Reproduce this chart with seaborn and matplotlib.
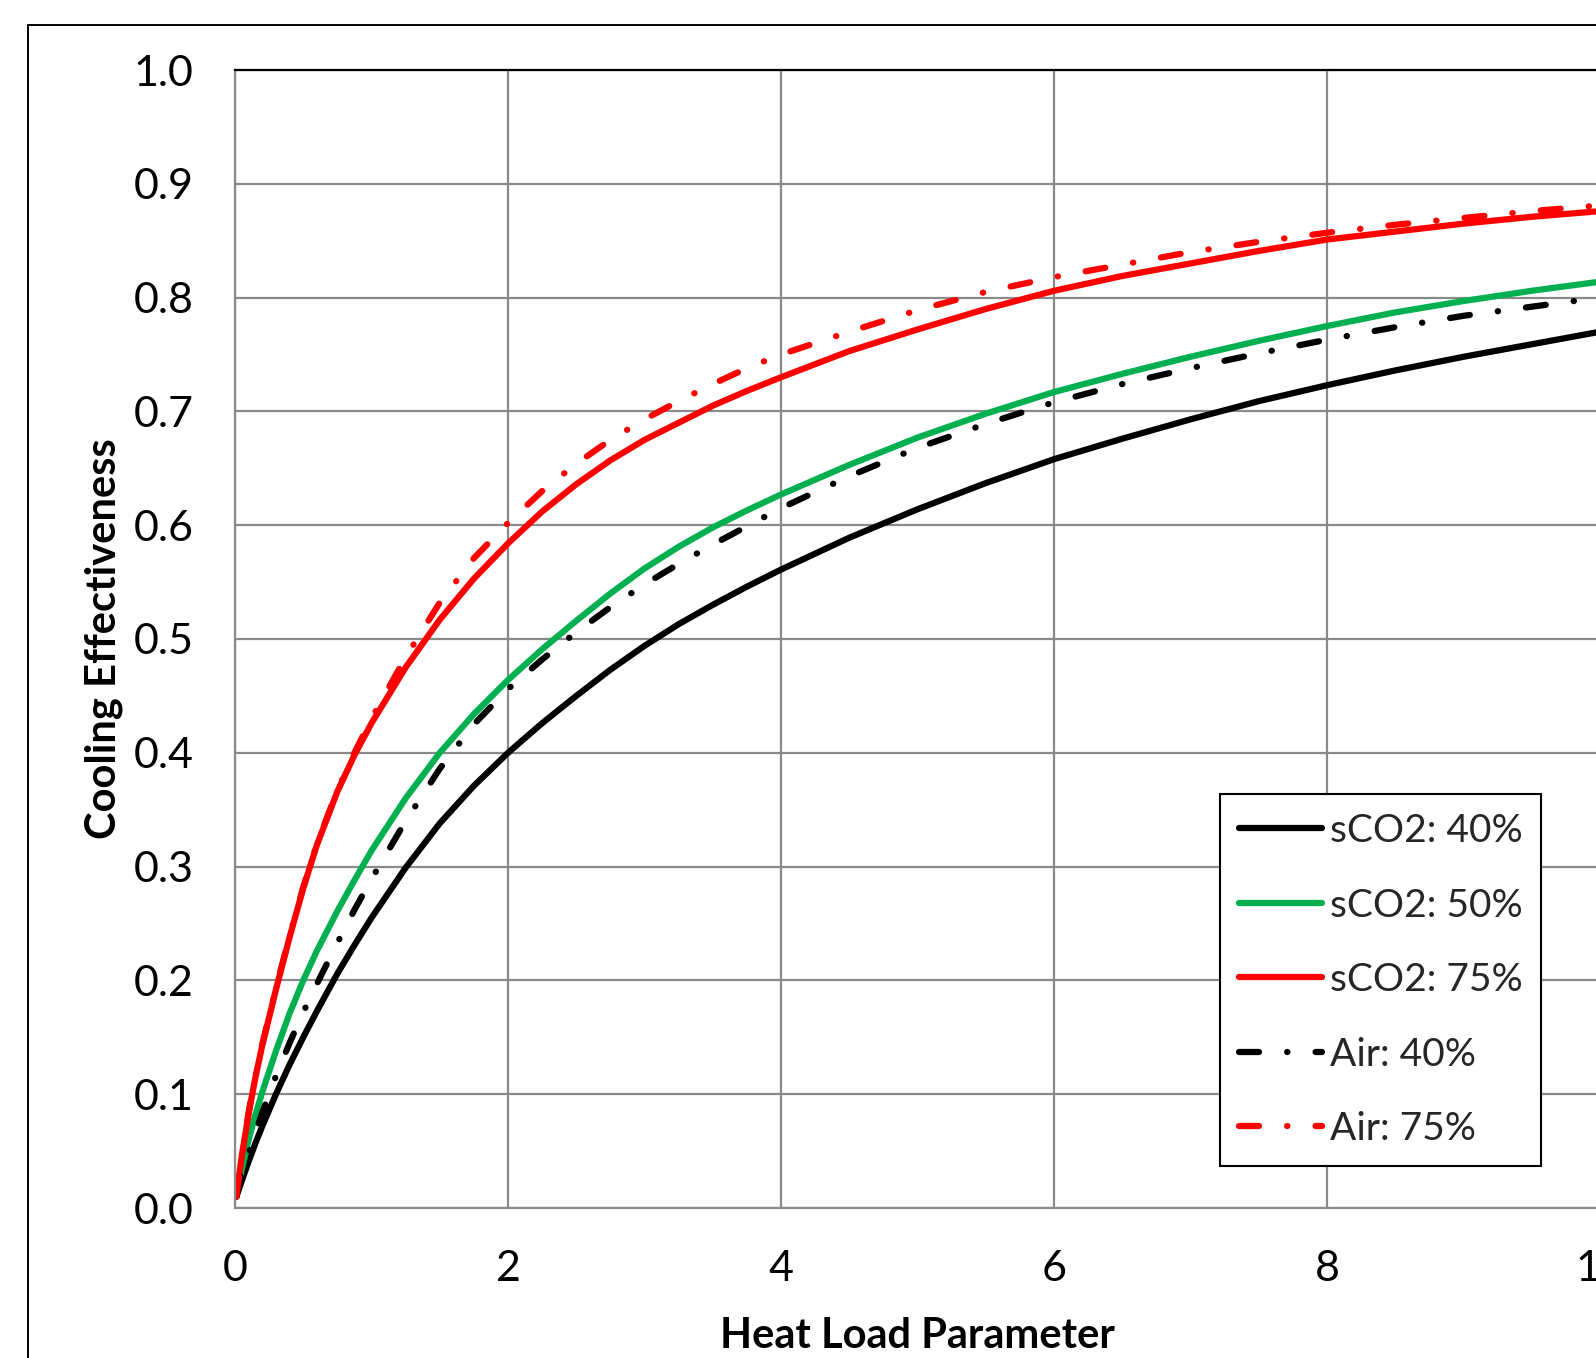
import numpy as np
import pandas as pd
import matplotlib
matplotlib.use('Agg')
import matplotlib.pyplot as plt
import seaborn as sns
from matplotlib.patches import Rectangle

# values
heat_load = [0.01, 0.05, 0.1, 0.15, 0.2, 0.3, 0.4, 0.5, 0.6, 0.75, 0.875, 1.0,
             1.25, 1.5, 1.75, 2.0, 2.25, 2.5, 2.75, 3.0, 3.25, 3.5, 3.75, 4.0,
             4.5, 5.0, 5.5, 6.0, 6.5, 7.0, 7.5, 8.0, 8.5, 9.0, 9.5, 10.0]
sco2_40 = [0.010, 0.024, 0.041, 0.057, 0.072, 0.100, 0.126, 0.150, 0.173, 0.206, 0.231, 0.255,
           0.299, 0.338, 0.371, 0.400, 0.426, 0.450, 0.473, 0.494, 0.513, 0.530, 0.546, 0.561,
           0.589, 0.614, 0.637, 0.658, 0.676, 0.693, 0.709, 0.723, 0.736, 0.748, 0.759, 0.770]
sco2_50 = [0.010, 0.034, 0.060, 0.082, 0.102, 0.138, 0.171, 0.200, 0.226, 0.261, 0.288, 0.314,
           0.360, 0.400, 0.434, 0.464, 0.491, 0.516, 0.540, 0.562, 0.581, 0.598, 0.613, 0.627,
           0.653, 0.677, 0.698, 0.717, 0.733, 0.748, 0.762, 0.775, 0.787, 0.797, 0.806, 0.814]
sco2_75 = [0.010, 0.046, 0.083, 0.115, 0.143, 0.192, 0.238, 0.281, 0.319, 0.366, 0.398, 0.426,
           0.475, 0.517, 0.553, 0.584, 0.612, 0.636, 0.657, 0.675, 0.690, 0.705, 0.718, 0.730,
           0.753, 0.772, 0.790, 0.806, 0.819, 0.830, 0.841, 0.851, 0.858, 0.865, 0.871, 0.876]
air_40 = [0.010, 0.028, 0.048, 0.066, 0.084, 0.116, 0.145, 0.172, 0.197, 0.233, 0.262, 0.289,
          0.340, 0.386, 0.425, 0.456, 0.482, 0.506, 0.528, 0.548, 0.566, 0.583, 0.599, 0.615,
          0.643, 0.668, 0.689, 0.708, 0.724, 0.738, 0.751, 0.763, 0.774, 0.784, 0.792, 0.800]
air_75 = [0.010, 0.046, 0.084, 0.116, 0.144, 0.193, 0.239, 0.282, 0.320, 0.367, 0.400, 0.430,
          0.484, 0.532, 0.571, 0.602, 0.630, 0.654, 0.675, 0.693, 0.709, 0.724, 0.738, 0.750,
          0.770, 0.789, 0.805, 0.818, 0.829, 0.840, 0.849, 0.857, 0.864, 0.870, 0.876, 0.881]

labels = ['sCO2: 40%', 'sCO2: 50%', 'sCO2: 75%', 'Air: 40%', 'Air: 75%']
x_ticks = [0, 2, 4, 6, 8, 10]
x_tick_labels = ['0', '2', '4', '6', '8', '10']
y_ticks = [0.0, 0.1, 0.2, 0.3, 0.4, 0.5, 0.6, 0.7, 0.8, 0.9, 1.0]
y_tick_labels = ['0.0', '0.1', '0.2', '0.3', '0.4', '0.5', '0.6', '0.7', '0.8', '0.9', '1.0']

sns.set_theme(style='white')
plt.rcParams['font.family'] = ['Lato', 'DejaVu Sans']

fig = plt.figure(figsize=(15.96, 13.58), dpi=100)
ax = fig.add_axes([235 / 1596, 1 - 1208 / 1358, 1365 / 1596, 1138 / 1358])

grid_col = '#8a8a8a'
long_dash_dot = (0, (3.2, 4.5, 0.05, 4.5))
styles = [('black', '-'), ('#00B050', '-'), ('#FF0000', '-'),
          ('black', long_dash_dot), ('#FF0000', long_dash_dot)]

for lab, vals, (col, ls) in zip(labels, [sco2_40, sco2_50, sco2_75, air_40, air_75], styles):
    sns.lineplot(x=heat_load, y=vals, ax=ax, color=col, linestyle=ls, lw=4.5,
                 label=lab, solid_capstyle='round', dash_capstyle='round',
                 solid_joinstyle='round', sort=False, errorbar=None)

ax.set_xlim(0, 10)
ax.set_ylim(0, 1)
ax.set_xticks(x_ticks)
ax.set_xticklabels(x_tick_labels)
ax.set_yticks(y_ticks)
ax.set_yticklabels(y_tick_labels)
ax.grid(True, color=grid_col, lw=1.6)
ax.set_axisbelow(True)
ax.tick_params(direction='out', length=10, width=1.6, color=grid_col,
               labelsize=31, labelcolor='black')
ax.tick_params(axis='y', pad=20)
ax.tick_params(axis='x', pad=20)

for side in ['left', 'bottom']:
    ax.spines[side].set_color(grid_col)
    ax.spines[side].set_linewidth(1.6)
for side in ['top', 'right']:
    ax.spines[side].set_color('black')
    ax.spines[side].set_linewidth(1.6)

ax.set_xlabel('Heat Load Parameter', fontsize=30, fontweight='bold', color='black')
ax.set_ylabel('Cooling Effectiveness', fontsize=30, fontweight='bold', color='black')
ax.xaxis.set_label_coords(0.5, (1208 - 1317) / 1138)
ax.yaxis.set_label_coords((123 - 235) / 1365, 0.5)

leg = ax.legend(loc='upper left', bbox_to_anchor=((1220 - 235) / 1365, (1208 - 794) / 1138),
                frameon=True, fancybox=False, framealpha=1, edgecolor='black',
                fontsize=28, handlelength=2.14, handletextpad=0.19, borderpad=0.49,
                labelspacing=0.99, borderaxespad=0)
leg.get_frame().set_linewidth(1.5)

# outer chart-area border (cropped on the right and bottom)
fig.patches.append(Rectangle((27.5 / 1596, -0.1), 1.2, 1 - 24.5 / 1358 + 0.1,
                             transform=fig.transFigure, fill=False,
                             edgecolor='black', lw=1.4))

fig.savefig('out.png', dpi=100)
